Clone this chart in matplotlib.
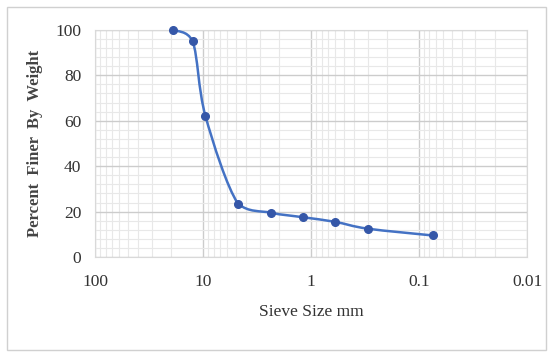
import numpy as np
import matplotlib.pyplot as plt
from matplotlib.path import Path
from matplotlib.patches import PathPatch, Rectangle
from matplotlib.ticker import FixedLocator, MultipleLocator

# sieve analysis - gradation curve
sieve_mm = [19.0, 12.5, 9.5, 4.75, 2.36, 1.18, 0.6, 0.3, 0.075]
percent_finer = [100, 95, 62, 23.5, 19.5, 17.5, 15.5, 12.5, 9.5]
x_ticks = [100, 10, 1, 0.1, 0.01]
x_tick_labels = ["100", "10", "1", "0.1", "0.01"]
y_ticks = [0, 20, 40, 60, 80, 100]

line_col = "#4472c4"
mark_col = "#3557a8"

plt.rcParams["font.family"] = ["Liberation Serif", "DejaVu Serif"]

fig = plt.figure(figsize=(5.53, 3.56), dpi=100)
fig.patches.append(Rectangle((0.013, 0.017), 0.974, 0.962, transform=fig.transFigure,
                             fill=False, edgecolor="#d0d0d0", linewidth=1.0))
ax = fig.add_axes([0.172, 0.278, 0.781, 0.638])

ax.set_xscale("log")
ax.set_xlim(100, 0.01)
ax.set_ylim(0, 100)

# smooth line like excel: catmull-rom in screen-like units, control y kept inside segment
sx, sy = 108.0, 2.27
px = np.log10(sieve_mm) * sx
py = np.array(percent_finer, dtype=float) * sy
verts = [(sieve_mm[0], percent_finer[0])]
codes = [Path.MOVETO]
n = len(px)
for i in range(n - 1):
    a = i - 1 if i > 0 else i
    d = i + 2 if i + 2 < n else i + 1
    lo, hi = min(py[i], py[i + 1]), max(py[i], py[i + 1])
    c1x = px[i] + (px[i + 1] - px[a]) / 6
    c1y = np.clip(py[i] + (py[i + 1] - py[a]) / 6, lo, hi)
    c2x = px[i + 1] - (px[d] - px[i]) / 6
    c2y = np.clip(py[i + 1] - (py[d] - py[i]) / 6, lo, hi)
    verts += [(10 ** (c1x / sx), c1y / sy), (10 ** (c2x / sx), c2y / sy),
              (sieve_mm[i + 1], percent_finer[i + 1])]
    codes += [Path.CURVE4] * 3
ax.add_patch(PathPatch(Path(verts, codes), facecolor="none", edgecolor=line_col,
                       linewidth=1.8, zorder=3, clip_on=False))
ax.plot(sieve_mm, percent_finer, linestyle="none", marker="o", markersize=5.5,
        color=mark_col, zorder=4, clip_on=False)

ax.xaxis.set_major_locator(FixedLocator(x_ticks))
ax.set_xticklabels(x_tick_labels)
ax.set_yticks(y_ticks)
ax.yaxis.set_minor_locator(MultipleLocator(4))
ax.grid(which="major", color="#cccccc", linewidth=1.0)
ax.grid(which="minor", color="#e8e8e8", linewidth=0.8)
ax.set_axisbelow(True)
ax.tick_params(which="both", length=0, labelsize=12.5, colors="#333333", pad=12)
ax.tick_params(axis="y", pad=10)
for s in ax.spines.values():
    s.set_color("#d9d9d9")

ax.set_xlabel("Sieve Size mm", fontsize=12.5, color="#333333", labelpad=10)
ax.set_ylabel("Percent  Finer  By  Weight", fontsize=12, fontweight="bold",
              color="#444444", labelpad=9)

fig.savefig("out.png", dpi=100)
